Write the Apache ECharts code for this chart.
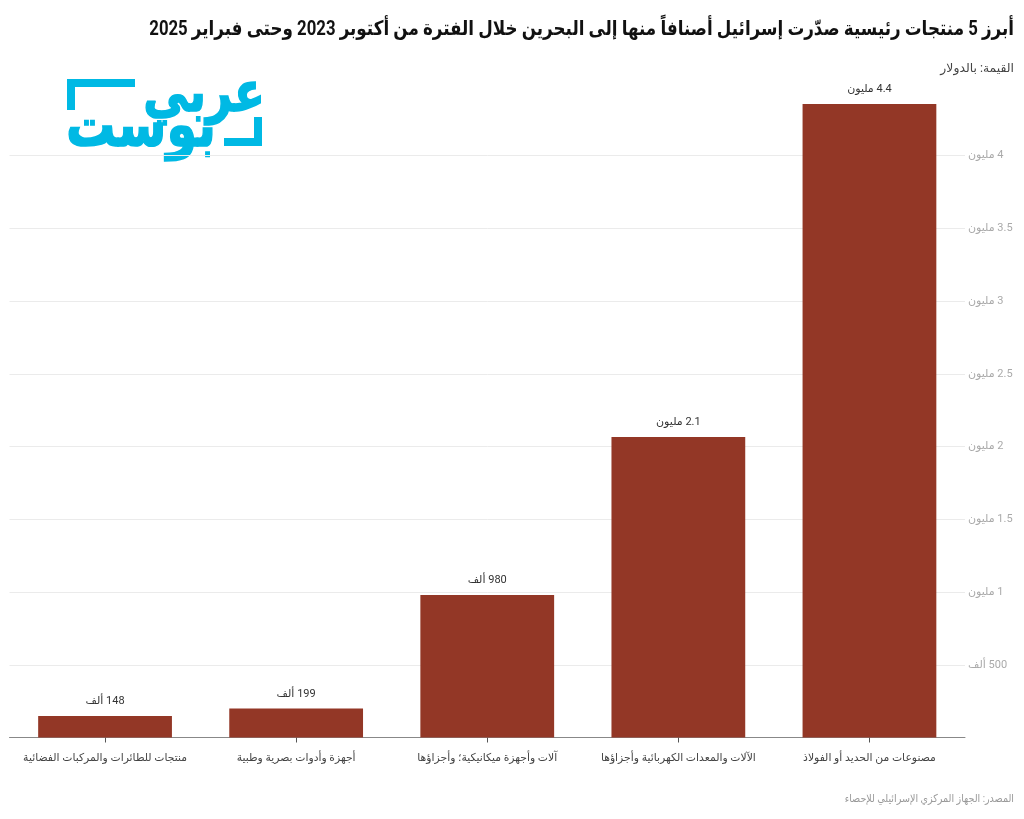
<!DOCTYPE html>
<html dir="rtl"><head><meta charset="utf-8">
<style>html,body{margin:0;padding:0;background:#fff}#c{width:1024px;height:819px}</style>
<script src="https://cdn.jsdelivr.net/npm/echarts@6/dist/echarts.min.js"></script>
</head><body><div id="c"></div>
<script>
const categories=["منتجات للطائرات والمركبات الفضائية","أجهزة وأدوات بصرية وطبية","آلات وأجهزة ميكانيكية؛ وأجزاؤها","الآلات والمعدات الكهربائية وأجزاؤها","مصنوعات من الحديد أو الفولاذ"];
const values=[148000,199000,980000,2065000,4354000];
const valueLabels=["148 ألف","199 ألف","980 ألف","2.1 مليون","4.4 مليون"];
const tickLabels={500000:"500 ألف",1000000:"1 مليون",1500000:"1.5 مليون",2000000:"2 مليون",2500000:"2.5 مليون",3000000:"3 مليون",3500000:"3.5 مليون",4000000:"4 مليون"};
const titleText="أبرز 5 منتجات رئيسية صدّرت إسرائيل أصنافاً منها إلى البحرين خلال الفترة من أكتوبر 2023 وحتى فبراير 2025";
const subtitleText="القيمة: بالدولار";
const sourceText="المصدر: الجهاز المركزي الإسرائيلي للإحصاء";
const F="Roboto, 'Noto Sans', 'DejaVu Sans', sans-serif";
const chart=echarts.init(document.getElementById('c'),null,{renderer:'canvas'});
const cyan='#00b9e4';
chart.setOption({
 animation:false,backgroundColor:'#fff',
 textStyle:{fontFamily:F},
 grid:{left:9.5,right:59,top:82.75,bottom:81.5,containLabel:false},
 xAxis:{type:'category',data:categories,
  axisLine:{show:true,lineStyle:{color:'#888',width:1}},
  axisTick:{show:true,alignWithLabel:true,length:5,lineStyle:{color:'#555',width:1}},
  axisLabel:{color:'#444',fontSize:10.8,margin:15,interval:0,fontFamily:F}},
 yAxis:{type:'value',position:'right',min:0,max:4500000,interval:500000,
  axisLine:{show:false},axisTick:{show:false},
  splitLine:{showMinLine:false,showMaxLine:false,lineStyle:{color:'#ebebeb',width:1}},
  axisLabel:{inside:false,margin:3,color:'#aaa',fontSize:11,fontFamily:F,align:'left',showMinLabel:false,showMaxLabel:false,
   formatter:v=>tickLabels[v]||''}},
 series:[{type:'bar',data:values,barWidth:'70%',itemStyle:{color:'#933726'},
  label:{show:true,position:'top',distance:9,color:'#333',fontSize:11,fontFamily:F,formatter:p=>valueLabels[p.dataIndex]}}],
 graphic:[
  {type:'text',x:1014,y:30,scaleX:0.837,style:{text:titleText,font:"bold 20px "+F,fill:'#111',textAlign:'right',textVerticalAlign:'middle'}},
  {type:'text',x:1014,y:69,style:{text:subtitleText,font:"12.4px "+F,fill:'#444',textAlign:'right',textVerticalAlign:'middle'}},
  {type:'text',x:1014,y:799,scaleX:0.87,style:{text:sourceText,font:"11px "+F,fill:'#999',textAlign:'right',textVerticalAlign:'middle'}},
  {type:'rect',shape:{x:67,y:79,width:68,height:8},style:{fill:cyan}},
  {type:'rect',shape:{x:67,y:79,width:8,height:31},style:{fill:cyan}},
  {type:'rect',shape:{x:224,y:138,width:38,height:8},style:{fill:cyan}},
  {type:'rect',shape:{x:254,y:117,width:8,height:29},style:{fill:cyan}},
  {type:'text',x:265,y:97,scaleX:0.87,scaleY:1.08,style:{text:"عربي",font:"bold 52px "+F,fill:cyan,stroke:cyan,lineWidth:1.5,textAlign:'right',textVerticalAlign:'middle'}},
  {type:'text',x:216,y:131,scaleX:0.85,scaleY:1.05,style:{text:"بوست",font:"bold 58px "+F,fill:cyan,stroke:cyan,lineWidth:1.5,textAlign:'right',textVerticalAlign:'middle'}}
 ]
});
</script></body></html>
